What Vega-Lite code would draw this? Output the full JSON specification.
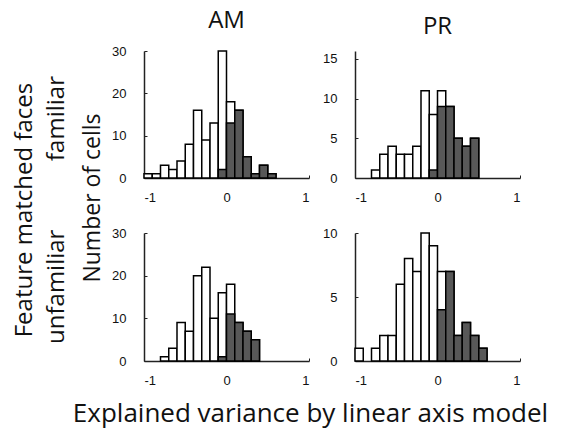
{
  "$schema": "https://vega.github.io/schema/vega-lite/v6.json",
  "background": "white",
  "padding": {"left": 12, "top": 9, "right": 5, "bottom": 5},
  "config": {
    "view": {"stroke": null},
    "font": "Open Sans",
    "axis": {
      "grid": false,
      "domainColor": "#222222",
      "domainWidth": 1.5,
      "tickColor": "#222222",
      "tickSize": -3,
      "tickWidth": 1,
      "labelFont": "Liberation Sans",
      "labelFontSize": 13,
      "labelColor": "#111111",
      "labelExpr": "'' + datum.value",
      "title": null
    },
    "axisX": {"labelPadding": 16},
    "axisY": {"labelPadding": 21},
    "title": {"font": "Open Sans", "fontSize": 24, "fontWeight": "normal", "color": "#111111", "anchor": "middle"}
  },
  "data": {
    "values": [
      {"area": "AM", "cond": "familiar", "bin_start": -1.0, "bin_end": -0.9, "all": 1, "sig": 0},
      {"area": "AM", "cond": "familiar", "bin_start": -0.9, "bin_end": -0.8, "all": 1, "sig": 0},
      {"area": "AM", "cond": "familiar", "bin_start": -0.8, "bin_end": -0.7, "all": 3, "sig": 0},
      {"area": "AM", "cond": "familiar", "bin_start": -0.7, "bin_end": -0.6, "all": 2, "sig": 0},
      {"area": "AM", "cond": "familiar", "bin_start": -0.6, "bin_end": -0.5, "all": 4, "sig": 0},
      {"area": "AM", "cond": "familiar", "bin_start": -0.5, "bin_end": -0.4, "all": 8, "sig": 0},
      {"area": "AM", "cond": "familiar", "bin_start": -0.4, "bin_end": -0.3, "all": 16, "sig": 0},
      {"area": "AM", "cond": "familiar", "bin_start": -0.3, "bin_end": -0.2, "all": 9, "sig": 0},
      {"area": "AM", "cond": "familiar", "bin_start": -0.2, "bin_end": -0.1, "all": 13, "sig": 0},
      {"area": "AM", "cond": "familiar", "bin_start": -0.1, "bin_end": 0.0, "all": 30, "sig": 2},
      {"area": "AM", "cond": "familiar", "bin_start": 0.0, "bin_end": 0.1, "all": 18, "sig": 13},
      {"area": "AM", "cond": "familiar", "bin_start": 0.1, "bin_end": 0.2, "all": 16, "sig": 16},
      {"area": "AM", "cond": "familiar", "bin_start": 0.2, "bin_end": 0.3, "all": 5, "sig": 5},
      {"area": "AM", "cond": "familiar", "bin_start": 0.3, "bin_end": 0.4, "all": 1, "sig": 1},
      {"area": "AM", "cond": "familiar", "bin_start": 0.4, "bin_end": 0.5, "all": 3, "sig": 3},
      {"area": "AM", "cond": "familiar", "bin_start": 0.5, "bin_end": 0.6, "all": 1, "sig": 1},

      {"area": "PR", "cond": "familiar", "bin_start": -0.8, "bin_end": -0.7, "all": 1, "sig": 0},
      {"area": "PR", "cond": "familiar", "bin_start": -0.7, "bin_end": -0.6, "all": 3, "sig": 0},
      {"area": "PR", "cond": "familiar", "bin_start": -0.6, "bin_end": -0.5, "all": 4, "sig": 0},
      {"area": "PR", "cond": "familiar", "bin_start": -0.5, "bin_end": -0.4, "all": 3, "sig": 0},
      {"area": "PR", "cond": "familiar", "bin_start": -0.4, "bin_end": -0.3, "all": 3, "sig": 0},
      {"area": "PR", "cond": "familiar", "bin_start": -0.3, "bin_end": -0.2, "all": 4, "sig": 0},
      {"area": "PR", "cond": "familiar", "bin_start": -0.2, "bin_end": -0.1, "all": 11, "sig": 0},
      {"area": "PR", "cond": "familiar", "bin_start": -0.1, "bin_end": 0.0, "all": 8, "sig": 1},
      {"area": "PR", "cond": "familiar", "bin_start": 0.0, "bin_end": 0.1, "all": 11, "sig": 9},
      {"area": "PR", "cond": "familiar", "bin_start": 0.1, "bin_end": 0.2, "all": 9, "sig": 9},
      {"area": "PR", "cond": "familiar", "bin_start": 0.2, "bin_end": 0.3, "all": 5, "sig": 5},
      {"area": "PR", "cond": "familiar", "bin_start": 0.3, "bin_end": 0.4, "all": 4, "sig": 4},
      {"area": "PR", "cond": "familiar", "bin_start": 0.4, "bin_end": 0.5, "all": 5, "sig": 5},

      {"area": "AM", "cond": "unfamiliar", "bin_start": -0.8, "bin_end": -0.7, "all": 1, "sig": 0},
      {"area": "AM", "cond": "unfamiliar", "bin_start": -0.7, "bin_end": -0.6, "all": 3, "sig": 0},
      {"area": "AM", "cond": "unfamiliar", "bin_start": -0.6, "bin_end": -0.5, "all": 9, "sig": 0},
      {"area": "AM", "cond": "unfamiliar", "bin_start": -0.5, "bin_end": -0.4, "all": 7, "sig": 0},
      {"area": "AM", "cond": "unfamiliar", "bin_start": -0.4, "bin_end": -0.3, "all": 20, "sig": 0},
      {"area": "AM", "cond": "unfamiliar", "bin_start": -0.3, "bin_end": -0.2, "all": 22, "sig": 0},
      {"area": "AM", "cond": "unfamiliar", "bin_start": -0.2, "bin_end": -0.1, "all": 10, "sig": 0},
      {"area": "AM", "cond": "unfamiliar", "bin_start": -0.1, "bin_end": 0.0, "all": 16, "sig": 1},
      {"area": "AM", "cond": "unfamiliar", "bin_start": 0.0, "bin_end": 0.1, "all": 18, "sig": 11},
      {"area": "AM", "cond": "unfamiliar", "bin_start": 0.1, "bin_end": 0.2, "all": 9, "sig": 9},
      {"area": "AM", "cond": "unfamiliar", "bin_start": 0.2, "bin_end": 0.3, "all": 7, "sig": 7},
      {"area": "AM", "cond": "unfamiliar", "bin_start": 0.3, "bin_end": 0.4, "all": 5, "sig": 5},

      {"area": "PR", "cond": "unfamiliar", "bin_start": -1.0, "bin_end": -0.9, "all": 1, "sig": 0},
      {"area": "PR", "cond": "unfamiliar", "bin_start": -0.8, "bin_end": -0.7, "all": 1, "sig": 0},
      {"area": "PR", "cond": "unfamiliar", "bin_start": -0.7, "bin_end": -0.6, "all": 2, "sig": 0},
      {"area": "PR", "cond": "unfamiliar", "bin_start": -0.6, "bin_end": -0.5, "all": 2, "sig": 0},
      {"area": "PR", "cond": "unfamiliar", "bin_start": -0.5, "bin_end": -0.4, "all": 6, "sig": 0},
      {"area": "PR", "cond": "unfamiliar", "bin_start": -0.4, "bin_end": -0.3, "all": 8, "sig": 0},
      {"area": "PR", "cond": "unfamiliar", "bin_start": -0.3, "bin_end": -0.2, "all": 7, "sig": 0},
      {"area": "PR", "cond": "unfamiliar", "bin_start": -0.2, "bin_end": -0.1, "all": 10, "sig": 0},
      {"area": "PR", "cond": "unfamiliar", "bin_start": -0.1, "bin_end": 0.0, "all": 9, "sig": 0},
      {"area": "PR", "cond": "unfamiliar", "bin_start": 0.0, "bin_end": 0.1, "all": 7, "sig": 4},
      {"area": "PR", "cond": "unfamiliar", "bin_start": 0.1, "bin_end": 0.2, "all": 7, "sig": 7},
      {"area": "PR", "cond": "unfamiliar", "bin_start": 0.2, "bin_end": 0.3, "all": 2, "sig": 2},
      {"area": "PR", "cond": "unfamiliar", "bin_start": 0.3, "bin_end": 0.4, "all": 3, "sig": 3},
      {"area": "PR", "cond": "unfamiliar", "bin_start": 0.4, "bin_end": 0.5, "all": 2, "sig": 2},
      {"area": "PR", "cond": "unfamiliar", "bin_start": 0.5, "bin_end": 0.6, "all": 1, "sig": 1}
    ]
  },
  "title": {"text": "Explained variance by linear axis model", "orient": "bottom", "offset": 14, "fontSize": 26, "dx": 44},
  "hconcat": [
    {
      "title": {
        "text": "Feature matched faces",
        "subtitle": "unfamiliar\u00a0\u00a0\u00a0\u00a0\u00a0\u00a0\u00a0\u00a0\u00a0\u00a0\u00a0familiar",
        "orient": "left",
        "subtitleFont": "Open Sans",
        "subtitleFontSize": 24,
        "subtitleColor": "#111111",
        "subtitlePadding": 8,
        "offset": 13,
        "dx": -12
      },
      "hconcat": [
        {
          "title": {"text": "Number of cells", "orient": "left", "offset": 7, "fontSize": 23},
          "spacing": 23,
          "vconcat": [
            {
              "spacing": 12,
              "hconcat": [
                {
                  "title": {"text": "AM", "offset": 12},
                  "width": 165, "height": 127,
                  "transform": [{"filter": "datum.area == 'AM' && datum.cond == 'familiar'"}],
                  "layer": [
                    {"mark": {"type": "bar", "fill": "white", "stroke": "black", "strokeWidth": 1.5},
                     "encoding": {
                       "x": {"field": "bin_start", "type": "quantitative", "scale": {"domain": [-1, 1]}, "axis": {"values": [-1, 0, 1]}},
                       "x2": {"field": "bin_end"},
                       "y": {"field": "all", "type": "quantitative", "scale": {"domain": [0, 30]}, "axis": {"values": [0, 10, 20, 30]}},
                       "y2": {"datum": 0}}},
                    {"transform": [{"filter": "datum.sig > 0"}],
                     "mark": {"type": "bar", "fill": "#585858", "stroke": "black", "strokeWidth": 1.5},
                     "encoding": {
                       "x": {"field": "bin_start", "type": "quantitative"},
                       "x2": {"field": "bin_end"},
                       "y": {"field": "sig", "type": "quantitative"},
                       "y2": {"datum": 0}}}
                  ]
                },
                {
                  "title": {"text": "PR", "offset": 12},
                  "width": 165, "height": 127,
                  "transform": [{"filter": "datum.area == 'PR' && datum.cond == 'familiar'"}],
                  "layer": [
                    {"mark": {"type": "bar", "fill": "white", "stroke": "black", "strokeWidth": 1.5},
                     "encoding": {
                       "x": {"field": "bin_start", "type": "quantitative", "scale": {"domain": [-1, 1]}, "axis": {"values": [-1, 0, 1]}},
                       "x2": {"field": "bin_end"},
                       "y": {"field": "all", "type": "quantitative", "scale": {"domain": [0, 15]}, "axis": {"values": [0, 5, 10, 15]}},
                       "y2": {"datum": 0}}},
                    {"transform": [{"filter": "datum.sig > 0"}],
                     "mark": {"type": "bar", "fill": "#585858", "stroke": "black", "strokeWidth": 1.5},
                     "encoding": {
                       "x": {"field": "bin_start", "type": "quantitative"},
                       "x2": {"field": "bin_end"},
                       "y": {"field": "sig", "type": "quantitative"},
                       "y2": {"datum": 0}}}
                  ]
                }
              ]
            },
            {
              "spacing": 12,
              "hconcat": [
                {
                  "width": 165, "height": 128,
                  "transform": [{"filter": "datum.area == 'AM' && datum.cond == 'unfamiliar'"}],
                  "layer": [
                    {"mark": {"type": "bar", "fill": "white", "stroke": "black", "strokeWidth": 1.5},
                     "encoding": {
                       "x": {"field": "bin_start", "type": "quantitative", "scale": {"domain": [-1, 1]}, "axis": {"values": [-1, 0, 1]}},
                       "x2": {"field": "bin_end"},
                       "y": {"field": "all", "type": "quantitative", "scale": {"domain": [0, 30]}, "axis": {"values": [0, 10, 20, 30]}},
                       "y2": {"datum": 0}}},
                    {"transform": [{"filter": "datum.sig > 0"}],
                     "mark": {"type": "bar", "fill": "#585858", "stroke": "black", "strokeWidth": 1.5},
                     "encoding": {
                       "x": {"field": "bin_start", "type": "quantitative"},
                       "x2": {"field": "bin_end"},
                       "y": {"field": "sig", "type": "quantitative"},
                       "y2": {"datum": 0}}}
                  ]
                },
                {
                  "width": 165, "height": 128,
                  "transform": [{"filter": "datum.area == 'PR' && datum.cond == 'unfamiliar'"}],
                  "layer": [
                    {"mark": {"type": "bar", "fill": "white", "stroke": "black", "strokeWidth": 1.5},
                     "encoding": {
                       "x": {"field": "bin_start", "type": "quantitative", "scale": {"domain": [-1, 1]}, "axis": {"values": [-1, 0, 1]}},
                       "x2": {"field": "bin_end"},
                       "y": {"field": "all", "type": "quantitative", "scale": {"domain": [0, 10]}, "axis": {"values": [0, 5, 10]}},
                       "y2": {"datum": 0}}},
                    {"transform": [{"filter": "datum.sig > 0"}],
                     "mark": {"type": "bar", "fill": "#585858", "stroke": "black", "strokeWidth": 1.5},
                     "encoding": {
                       "x": {"field": "bin_start", "type": "quantitative"},
                       "x2": {"field": "bin_end"},
                       "y": {"field": "sig", "type": "quantitative"},
                       "y2": {"datum": 0}}}
                  ]
                }
              ]
            }
          ]
        }
      ]
    }
  ]
}
